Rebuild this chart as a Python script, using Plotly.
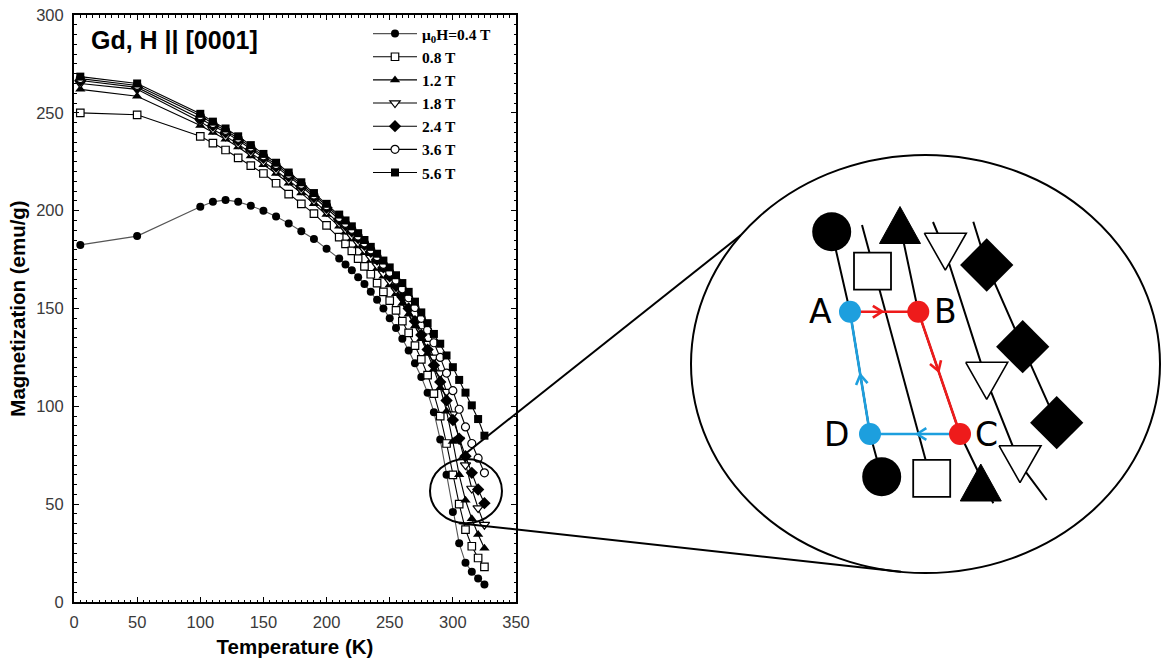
import math
import plotly.graph_objects as go

# ---------------------------------------------------------------------------
# Measured magnetisation of Gd (H || [0001]) versus temperature
# ---------------------------------------------------------------------------
temperature = [5, 50, 100, 110, 120, 130, 140, 150, 160, 170, 180, 190, 200, 210,
               215, 220, 225, 230, 235, 240, 245, 250, 255, 260, 265, 270, 275, 280,
               285, 290, 295, 300, 305, 310, 315, 320, 325]

m_04 = [182.5, 187, 202, 204.5, 205.5, 204.5, 202.5, 200, 197, 193.5, 189.5, 185.5, 180.5, 175.5,
        172.5, 169.5, 166, 162.5, 158.5, 154.5, 150, 145, 140, 134.5, 128.5, 122, 115, 107,
        97, 83, 65, 46, 30, 20, 15.5, 12, 9]
m_08 = [250, 249, 238, 234.5, 231, 227, 223, 219, 214, 208.5, 203.5, 198.5, 192.5, 186.5,
        183, 179.5, 175.5, 171.5, 167.5, 163, 158.5, 154, 149, 143.5, 137.5, 131, 124, 116,
        106.5, 95, 81, 65, 50, 37, 28.5, 22.5, 18]
m_12 = [262, 258.5, 243.5, 240, 236.5, 232.5, 228, 223.5, 219, 214, 209, 203.5, 198, 192,
        189, 185.5, 182, 178.5, 174.5, 170.5, 166.5, 162, 157.5, 152.5, 147, 141, 134.5, 127,
        119, 109.5, 97.5, 82, 65, 52, 42.5, 34.5, 27.5]
m_18 = [265, 262, 245.5, 241.5, 238, 234, 229.5, 225, 220.5, 215.5, 210.5, 205, 199.5, 193.5,
        190.5, 187, 183.5, 180, 176, 172, 168, 164, 159.5, 155, 150, 144.5, 138.5, 132,
        125, 117, 107.5, 96, 83, 70, 58, 48, 39.5]
m_24 = [266.5, 263, 247, 243.5, 240, 236, 231.5, 227, 222.5, 217.5, 212.5, 207, 201.5, 195.5,
        192.5, 189.5, 186, 182.5, 179, 175, 171, 166.5, 161.5, 156, 150, 143.5, 136.5, 129,
        121, 112.5, 103, 93, 83.5, 74.5, 66, 57.5, 50.5]
m_36 = [267.5, 264, 248.5, 244.5, 241, 237, 232.5, 228, 223.5, 218.5, 213.5, 208, 202.5, 196.5,
        193.5, 190.5, 187, 183.5, 180, 176.5, 172.5, 168.5, 164.5, 160, 155.5, 150.5, 145, 139,
        132.5, 125, 117, 108, 98.5, 89.5, 81, 73.5, 66]
m_56 = [268.5, 265, 249.5, 245.5, 242, 238, 233.5, 229, 224.5, 219.5, 214.5, 209, 203.5, 198,
        195, 192, 188.5, 185, 181.5, 178, 174.5, 171, 167, 163, 158.5, 153.5, 148, 142.5,
        137, 132, 126, 120, 113.5, 107, 100.5, 93.5, 85]

field_labels = ["μ<sub>0</sub>H=0.4 T", "0.8 T", "1.2 T", "1.8 T", "2.4 T", "3.6 T", "5.6 T"]

# ---------------------------------------------------------------------------
# Magnified sketch of the region near T_C (sketch units, y upward)
# ---------------------------------------------------------------------------
cycle_labels = ["A", "B", "C", "D"]
cycle_x = [-75.5, -7.2, 34.5, -55.5]
cycle_y = [52.3, 52.3, -70.0, -70.0]

sk_circle_x, sk_circle_y = [-93.8, -43.8], [132.3, -112.7]
sk_square_x, sk_square_y = [-53.0, 6.2], [92.8, -114.3]
sk_tri_up_x, sk_tri_up_y = [-25.5, 55.3], [139.0, -118.5]
sk_tri_dn_x, sk_tri_dn_y = [19.8, 61.2, 94.5], [112.3, -16.8, -100.2]
sk_diamond_x, sk_diamond_y = [61.2, 97.2, 131.2], [99.0, 17.3, -58.7]

# isofield guide lines of the sketch
guide_lines = [
    ([-93.8, -75.5, -55.5, -43.8], [132.3, 52.3, -70.0, -112.7]),
    ([-63.5, 5.0], [139.0, -114.0]),
    ([-25.5, -7.2, 34.5, 67.8], [139.0, 52.3, -70.0, -139.3]),
    ([7.5, 19.8, 61.2, 94.5, 121.2], [142.0, 112.3, -16.8, -100.2, -136.0]),
    ([47.8, 61.2, 97.2, 131.2], [142.3, 99.0, 17.3, -58.7]),
]

# ---------------------------------------------------------------------------
# Page geometry (pixels)
# ---------------------------------------------------------------------------
W, H = 1166, 663
ML, MR, MT, MB = 74, 0, 15, 61
PW, PH = W - ML - MR, H - MT - MB

def px_to_paper_x(px):
    return (px - ML) / PW

def px_to_paper_y(py):
    return (H - MB - py) / PH

main_dom_x = [0.0, px_to_paper_x(516)]
X_RANGE, Y_RANGE = [0, 350], [0, 300]

# sketch panel: 1 sketch unit == 1 pixel
SK_X0, SK_X1, SK_Y0, SK_Y1 = 686, 1165, 150, 578
sk_dom_x = [px_to_paper_x(SK_X0), px_to_paper_x(SK_X1)]
sk_dom_y = [px_to_paper_y(SK_Y1), px_to_paper_y(SK_Y0)]
SK_RX, SK_RY = (SK_X1 - SK_X0) / 2, (SK_Y1 - SK_Y0) / 2
ELL_RX, ELL_RY = 234.5, 209.0

# magnifier ring drawn on the data
ring_cx, ring_cy, ring_rx, ring_ry = 310.4, 56.7, 28.5, 16.4


def main_to_paper(t, m):
    fx = main_dom_x[0] + (t - X_RANGE[0]) / (X_RANGE[1] - X_RANGE[0]) * (main_dom_x[1] - main_dom_x[0])
    fy = (m - Y_RANGE[0]) / (Y_RANGE[1] - Y_RANGE[0])
    return fx, fy


def sketch_to_paper(u, v):
    fx = sk_dom_x[0] + (u + SK_RX) / (2 * SK_RX) * (sk_dom_x[1] - sk_dom_x[0])
    fy = sk_dom_y[0] + (v + SK_RY) / (2 * SK_RY) * (sk_dom_y[1] - sk_dom_y[0])
    return fx, fy


fig = go.Figure()

marker_styles = [
    dict(symbol="circle", size=8, color="black"),
    dict(symbol="square", size=7.5, color="white", line=dict(color="black", width=1.2)),
    dict(symbol="triangle-up", size=9, color="black"),
    dict(symbol="triangle-down", size=9, color="white", line=dict(color="black", width=1.2)),
    dict(symbol="diamond", size=9.5, color="black"),
    dict(symbol="circle", size=8, color="white", line=dict(color="black", width=1.2)),
    dict(symbol="square", size=8, color="black"),
]
line_colors = ["#555555"] + ["black"] * 6
for name, m, mk, lc in zip(field_labels, [m_04, m_08, m_12, m_18, m_24, m_36, m_56],
                           marker_styles, line_colors):
    fig.add_trace(go.Scatter(
        x=temperature, y=m, mode="lines+markers", name=f"<b>{name}</b>",
        line=dict(color=lc, width=1.1), marker=mk, xaxis="x", yaxis="y"))

# ---------------------------------------------------------------------------
# Sketch panel
# ---------------------------------------------------------------------------
for gx, gy in guide_lines:
    fig.add_trace(go.Scatter(x=gx, y=gy, mode="lines", line=dict(color="black", width=2),
                             xaxis="x2", yaxis="y2", showlegend=False, hoverinfo="skip"))

# thermodynamic cycle A -> B -> C -> D -> A
red, blue = "#ee1b1b", "#1d9fde"
seg_colors = [red, red, blue, blue]
chev_x = {red: [], blue: []}
chev_y = {red: [], blue: []}
for i in range(4):
    j = (i + 1) % 4
    x0, y0, x1, y1 = cycle_x[i], cycle_y[i], cycle_x[j], cycle_y[j]
    c = seg_colors[i]
    fig.add_trace(go.Scatter(x=[x0, x1], y=[y0, y1], mode="lines", line=dict(color=c, width=2.6),
                             xaxis="x2", yaxis="y2", showlegend=False, hoverinfo="skip"))
    L = math.hypot(x1 - x0, y1 - y0)
    ux, uy = (x1 - x0) / L, (y1 - y0) / L
    tx, ty = (x0 + x1) / 2 - 2 * ux, (y0 + y1) / 2 - 2 * uy
    for sgn in (1, -1):
        a = math.radians(32) * sgn
        rx = ux * math.cos(a) - uy * math.sin(a)
        ry = ux * math.sin(a) + uy * math.cos(a)
        chev_x[c] += [tx - 11 * rx, tx, None]
        chev_y[c] += [ty - 11 * ry, ty, None]
for c in (red, blue):
    fig.add_trace(go.Scatter(x=chev_x[c], y=chev_y[c], mode="lines", line=dict(color=c, width=2.6),
                             xaxis="x2", yaxis="y2", showlegend=False, hoverinfo="skip"))


def triangles(xs, ys, up, w=41, h=37):
    px, py = [], []
    for cx, cy in zip(xs, ys):
        if up:
            px += [cx - w / 2, cx + w / 2, cx, cx - w / 2, None]
            py += [cy - h / 2, cy - h / 2, cy + h / 2, cy - h / 2, None]
        else:
            px += [cx - w / 2, cx + w / 2, cx, cx - w / 2, None]
            py += [cy + h / 2, cy + h / 2, cy - h / 2, cy + h / 2, None]
    return px, py


tx_, ty_ = triangles(sk_tri_up_x, sk_tri_up_y, True)
fig.add_trace(go.Scatter(x=tx_, y=ty_, mode="lines", fill="toself", fillcolor="black",
                         line=dict(color="black", width=1), xaxis="x2", yaxis="y2",
                         showlegend=False, hoverinfo="skip"))
tx_, ty_ = triangles(sk_tri_dn_x, sk_tri_dn_y, False, w=42, h=37)
fig.add_trace(go.Scatter(x=tx_, y=ty_, mode="lines", fill="toself", fillcolor="white",
                         line=dict(color="black", width=1.6), xaxis="x2", yaxis="y2",
                         showlegend=False, hoverinfo="skip"))
fig.add_trace(go.Scatter(x=sk_circle_x, y=sk_circle_y, mode="markers",
                         marker=dict(symbol="circle", size=39, color="black"),
                         xaxis="x2", yaxis="y2", showlegend=False, hoverinfo="skip"))
fig.add_trace(go.Scatter(x=sk_square_x, y=sk_square_y, mode="markers",
                         marker=dict(symbol="square", size=37, color="white",
                                     line=dict(color="black", width=1.8)),
                         xaxis="x2", yaxis="y2", showlegend=False, hoverinfo="skip"))
fig.add_trace(go.Scatter(x=sk_diamond_x, y=sk_diamond_y, mode="markers",
                         marker=dict(symbol="diamond", size=41, color="black"),
                         xaxis="x2", yaxis="y2", showlegend=False, hoverinfo="skip"))
fig.add_trace(go.Scatter(x=cycle_x, y=cycle_y, mode="markers",
                         marker=dict(symbol="circle", size=22, color=[blue, red, red, blue]),
                         xaxis="x2", yaxis="y2", showlegend=False, hoverinfo="skip"))

annotations = []
label_shift = [-16, 14, 13, -19]
label_anchor = ["right", "left", "left", "right"]
for lab, x, y, s, a in zip(cycle_labels, cycle_x, cycle_y, label_shift, label_anchor):
    annotations.append(dict(x=x, y=y, xref="x2", yref="y2", text=lab, showarrow=False,
                            xanchor=a, yanchor="middle", xshift=s,
                            font=dict(family="DejaVu Sans", size=33, color="black")))

annotations.append(dict(x=11.5, y=287, xref="x", yref="y", text="<b>Gd, H || [0001]</b>",
                        showarrow=False, xanchor="left", yanchor="middle",
                        font=dict(family="Liberation Sans", size=25, color="black")))

# ---------------------------------------------------------------------------
# Magnifier: ring on the data, ellipse around the sketch and connecting lines
# ---------------------------------------------------------------------------
shapes = [
    dict(type="circle", xref="x", yref="y",
         x0=ring_cx - ring_rx, x1=ring_cx + ring_rx, y0=ring_cy - ring_ry, y1=ring_cy + ring_ry,
         line=dict(color="black", width=2)),
    dict(type="circle", xref="x2", yref="y2",
         x0=-ELL_RX, x1=ELL_RX, y0=-ELL_RY, y1=ELL_RY, line=dict(color="black", width=2)),
]
for ring_dy, theta in ((ring_ry, 142), (-ring_ry, 264)):
    a0 = main_to_paper(ring_cx - 0.2 * ring_rx, ring_cy + ring_dy)
    a1 = sketch_to_paper(ELL_RX * math.cos(math.radians(theta)),
                         ELL_RY * math.sin(math.radians(theta)))
    shapes.append(dict(type="line", xref="paper", yref="paper",
                       x0=a0[0], y0=a0[1], x1=a1[0], y1=a1[1],
                       line=dict(color="black", width=2)))

tick_font = dict(family="Liberation Sans", size=16.5, color="#3a3a3a")
title_font = dict(family="Liberation Sans", size=20.5, color="black")

fig.update_layout(
    width=W, height=H,
    margin=dict(l=ML, r=MR, t=MT, b=MB, pad=0),
    paper_bgcolor="white", plot_bgcolor="white",
    template="none",
    showlegend=True,
    legend=dict(x=px_to_paper_x(368), y=px_to_paper_y(17), xanchor="left", yanchor="top",
                bgcolor="rgba(0,0,0,0)", borderwidth=0, tracegroupgap=0, itemwidth=44,
                font=dict(family="Liberation Serif", size=15.5, color="black")),
    xaxis=dict(domain=main_dom_x, range=X_RANGE, anchor="y",
               showline=True, linecolor="black", linewidth=2, mirror="allticks",
               ticks="inside", ticklen=5, tickwidth=1.2, tickcolor="black",
               dtick=50, tick0=0, showgrid=False, zeroline=False,
               minor=dict(ticks="inside", ticklen=2.5, dtick=5, tickcolor="black", showgrid=False),
               tickfont=tick_font, ticklabelstandoff=4,
               title=dict(text="<b>Temperature (K)</b>", font=title_font, standoff=10),
               automargin=False),
    yaxis=dict(domain=[0, 1], range=Y_RANGE, anchor="x",
               showline=True, linecolor="black", linewidth=2, mirror="allticks",
               ticks="inside", ticklen=5, tickwidth=1.2, tickcolor="black",
               dtick=50, tick0=0, showgrid=False, zeroline=False,
               minor=dict(ticks="inside", ticklen=2.5, dtick=5, tickcolor="black", showgrid=False),
               tickfont=tick_font, ticklabelstandoff=5,
               title=dict(text="<b>Magnetization (emu/g)</b>", font=title_font, standoff=5),
               automargin=False),
    xaxis2=dict(domain=sk_dom_x, range=[-SK_RX, SK_RX], anchor="y2", visible=False),
    yaxis2=dict(domain=sk_dom_y, range=[-SK_RY, SK_RY], anchor="x2", visible=False),
    annotations=annotations,
    shapes=shapes,
)

fig.write_html("out.html")
